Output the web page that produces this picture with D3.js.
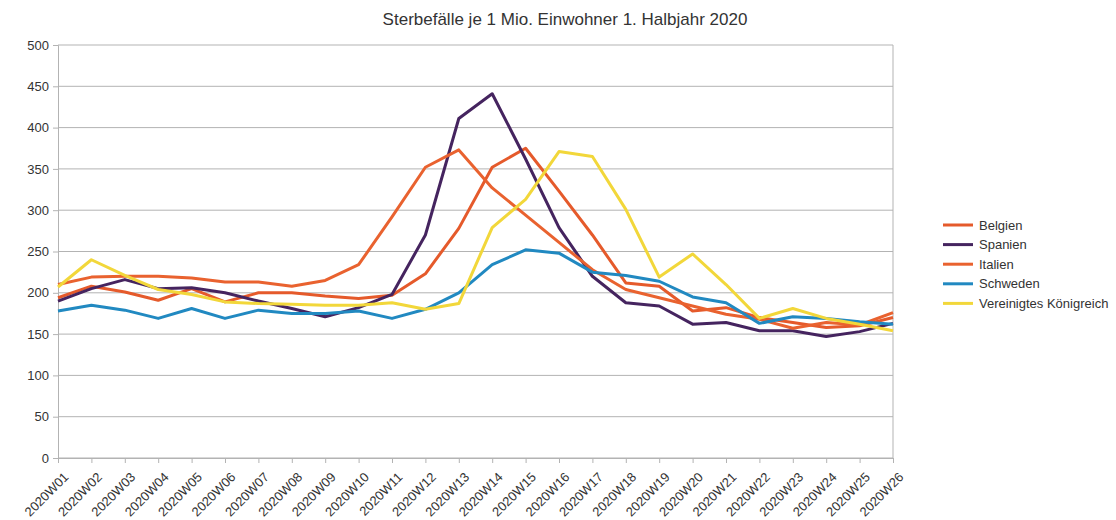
<!DOCTYPE html>
<html>
<head>
<meta charset="utf-8">
<script src="https://cdn.jsdelivr.net/npm/d3@7"></script>
<style>
  html, body { margin: 0; padding: 0; background: #fff; }
  svg { display: block; font-family: "Liberation Sans", Arial, sans-serif; }
</style>
</head>
<body>
<svg id="chart" width="1116" height="520"></svg>
<script>
// Weekly deaths per 1 million inhabitants, first half of 2020
const weeks = ["2020W01","2020W02","2020W03","2020W04","2020W05","2020W06","2020W07","2020W08","2020W09","2020W10","2020W11","2020W12","2020W13","2020W14","2020W15","2020W16","2020W17","2020W18","2020W19","2020W20","2020W21","2020W22","2020W23","2020W24","2020W25","2020W26"];

const belgien = [194,208,201,191,205,189,200,200,196,193,197,223,278,352,375,323,270,212,208,178,182,170,164,158,160,170];
const spanien = [190,205,216,205,206,200,190,181,171,182,198,270,411,441,362,279,220,188,184,162,164,154,154,147,153,163];
const italien = [210,219,220,220,218,213,213,208,215,234,292,352,373,327,294,261,228,204,194,184,174,168,157,164,161,176];
const schweden = [178,185,179,169,181,169,179,175,175,178,169,180,200,234,252,248,225,221,214,195,188,163,171,169,165,162];
const vereinigtesKoenigreich = [207,240,221,204,198,189,187,186,185,185,188,180,187,279,313,371,365,301,219,247,210,169,181,169,162,154];

const seriesNames = ["Belgien","Spanien","Italien","Schweden","Vereinigtes Königreich"];
const seriesValues = [belgien, spanien, italien, schweden, vereinigtesKoenigreich];
const seriesColors = ["#e55a2b","#45245f","#e9622f","#2189c1","#f2d73a"];

const yTicks = [0,50,100,150,200,250,300,350,400,450,500];
const titleText = "Sterbefälle je 1 Mio. Einwohner 1. Halbjahr 2020";

const svg = d3.select("#chart");
const margin = { left: 58, right: 1116 - 893, top: 45, bottom: 520 - 458 };
const W = 1116, H = 520;

const x = d3.scalePoint().domain(weeks).range([margin.left, W - margin.right]);
const y = d3.scaleLinear().domain([0, 500]).range([H - margin.bottom, margin.top]);

// horizontal grid lines
svg.append("g")
  .selectAll("line")
  .data(yTicks)
  .join("line")
  .attr("x1", margin.left).attr("x2", W - margin.right)
  .attr("y1", d => y(d)).attr("y2", d => y(d))
  .attr("stroke", "#b3b3b3").attr("stroke-width", 1);

// right frame edge
svg.append("line")
  .attr("x1", W - margin.right).attr("x2", W - margin.right)
  .attr("y1", y(500)).attr("y2", y(0))
  .attr("stroke", "#b3b3b3");

// y axis
const yAxis = svg.append("g")
  .attr("transform", `translate(${margin.left},0)`)
  .call(d3.axisLeft(y).tickValues(yTicks).tickSize(5).tickPadding(4));
yAxis.select(".domain").attr("stroke", "#b3b3b3");
yAxis.selectAll(".tick line").attr("stroke", "#b3b3b3");
yAxis.selectAll("text").attr("font-size", 13).attr("fill", "#333")
  .attr("font-family", "'Liberation Sans', Arial, sans-serif");

// x axis
const xAxis = svg.append("g")
  .attr("transform", `translate(0,${y(0)})`)
  .call(d3.axisBottom(x).tickSize(5).tickPadding(3));
xAxis.select(".domain").attr("stroke", "#b3b3b3");
xAxis.selectAll(".tick line").attr("stroke", "#b3b3b3");
xAxis.selectAll("text")
  .attr("font-size", 13).attr("fill", "#333")
  .attr("font-family", "'Liberation Sans', Arial, sans-serif")
  .attr("text-anchor", "end")
  .attr("dy", "0.35em")
  .attr("transform", "translate(2,11) rotate(-45)");

// series lines
const line = d3.line()
  .x((d, i) => x(weeks[i]))
  .y(d => y(d));

svg.append("g")
  .selectAll("path")
  .data(seriesValues)
  .join("path")
  .attr("d", d => line(d))
  .attr("fill", "none")
  .attr("stroke", (d, i) => seriesColors[i])
  .attr("stroke-width", 3)
  .attr("stroke-linejoin", "round");

// title
svg.append("text")
  .attr("x", 565).attr("y", 25)
  .attr("text-anchor", "middle")
  .attr("font-size", 17).attr("fill", "#333")
  .text(titleText);

// legend
const legend = svg.append("g")
  .selectAll("g")
  .data(seriesNames)
  .join("g")
  .attr("transform", (d, i) => `translate(943,${225 + i * 19.6})`);
legend.append("line")
  .attr("x1", 0).attr("x2", 30)
  .attr("stroke", (d, i) => seriesColors[i])
  .attr("stroke-width", 3);
legend.append("text")
  .attr("x", 36).attr("dy", "0.35em")
  .attr("font-size", 13).attr("fill", "#333")
  .text(d => d);
</script>
</body>
</html>
